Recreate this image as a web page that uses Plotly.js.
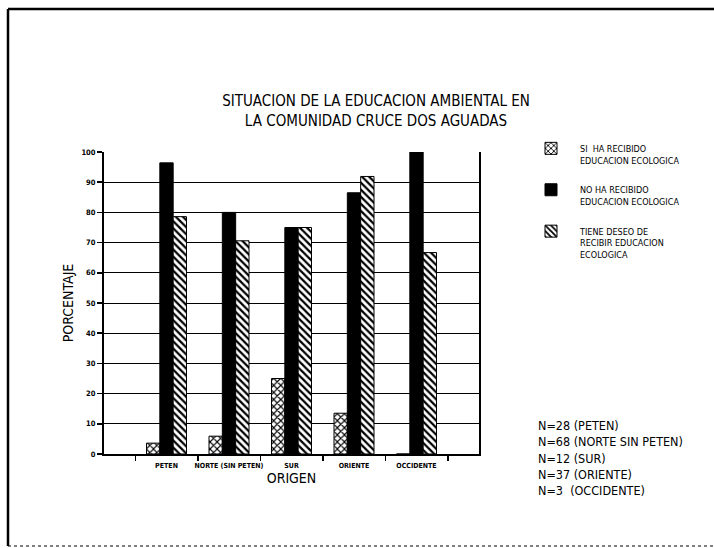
<!DOCTYPE html>
<html>
<head>
<meta charset="utf-8">
<script src="https://cdn.plot.ly/plotly-3.0.1.min.js"></script>
<style>html,body{margin:0;padding:0;background:#fff;}#chart{width:714px;height:548px;}</style>
</head>
<body>
<div id="chart"></div>
<script>
const categories = ["PETEN", "NORTE (SIN PETEN)", "SUR", "ORIENTE", "OCCIDENTE"];
const siRecibido = [3.6, 5.9, 25.0, 13.5, 0];
const noRecibido = [96.4, 80.0, 75.0, 86.5, 100];
const deseoRecibir = [78.6, 70.6, 75.0, 91.9, 66.7];
const seriesNames = [
  "SI  HA RECIBIDO<br>EDUCACION ECOLOGICA",
  "NO HA RECIBIDO<br>EDUCACION ECOLOGICA",
  "TIENE DESEO DE<br>RECIBIR EDUCACION<br>ECOLOGICA"
];
const sampleNotes = ["N=28 (PETEN)", "N=68 (NORTE SIN PETEN)", "N=12 (SUR)", "N=37 (ORIENTE)", "N=3  (OCCIDENTE)"];
const yTicks = [0, 10, 20, 30, 40, 50, 60, 70, 80, 90, 100];

const FONT = '"Liberation Sans Narrow", "DejaVu Sans Condensed", "Liberation Sans", sans-serif';
const line = {color: '#000', width: 1};

const traces = [
  {type: 'bar', x: categories, y: siRecibido, name: seriesNames[0], legendgroup: 'a',
   marker: {color: '#fff', line: line, pattern: {shape: 'x', fgcolor: '#000', bgcolor: '#fff', size: 5, solidity: 0.4}}},
  {type: 'bar', x: categories, y: noRecibido, name: seriesNames[1], legendgroup: 'b',
   marker: {color: '#000', line: line}},
  {type: 'bar', x: categories, y: deseoRecibir, name: seriesNames[2], legendgroup: 'c',
   marker: {color: '#fff', line: line, pattern: {shape: '\\', fgcolor: '#000', bgcolor: '#fff', size: 5, solidity: 0.45}}}
];

const L = 104, R = 479, T = 152, B = 454, W = 714, H = 548;
const pw = R - L, ph = B - T;
const px = v => (v - L) / pw;
const py = v => (B - v) / ph;

const layout = {
  width: W, height: H,
  margin: {l: L, r: W - R, t: T, b: H - B, pad: 0},
  paper_bgcolor: '#fff', plot_bgcolor: '#fff',
  font: {family: FONT, color: '#000'},
  barmode: 'group', bargap: 0.36, bargroupgap: 0,
  title: {text: "SITUACION DE LA EDUCACION AMBIENTAL EN<br>LA COMUNIDAD CRUCE DOS AGUADAS",
          font: {family: FONT, size: 15, color: '#000'},
          xref: 'paper', x: px(376), xanchor: 'center',
          yref: 'container', y: 1 - 106 / H, yanchor: 'middle'},
  xaxis: {type: 'category', range: [-1, 5], tickson: 'boundaries', ticks: 'outside', ticklen: 5,
          tickcolor: '#000', tickwidth: 1.5, showgrid: false, tickangle: 0, ticklabelstandoff: 4,
          showline: true, linecolor: '#000', linewidth: 1.5, mirror: false,
          tickfont: {family: FONT, size: 7, color: '#000', weight: 700},
          title: {text: 'ORIGEN', font: {family: FONT, size: 14, color: '#000'}, standoff: 2},
          automargin: false, fixedrange: true},
  yaxis: {range: [0, 100], tickvals: yTicks, ticks: 'outside', ticklen: 5, tickcolor: '#000', tickwidth: 1.5,
          showline: true, linecolor: '#000', linewidth: 2, mirror: true,
          showgrid: true, gridcolor: '#000', gridwidth: 1, zeroline: false,
          tickfont: {family: FONT, size: 7.5, color: '#000', weight: 700},
          title: {text: 'PORCENTAJE', font: {family: FONT, size: 14, color: '#000'}, standoff: 5},
          automargin: false, fixedrange: true},
  showlegend: true,
  legend: {x: px(522), xanchor: 'left', y: py(136), yanchor: 'top',
           font: {family: FONT, size: 9, color: '#000'}, bgcolor: 'rgba(0,0,0,0)',
           itemwidth: 48, tracegroupgap: 15, valign: 'top', itemclick: false, itemdoubleclick: false},
  annotations: [{
    text: sampleNotes.join('<br>'), showarrow: false, align: 'left',
    xref: 'paper', yref: 'paper', x: px(536), y: py(416), xanchor: 'left', yanchor: 'top',
    font: {family: FONT, size: 12.5, color: '#000'}
  }],
  shapes: [
    {type: 'line', xref: 'paper', yref: 'paper', x0: px(8), x1: px(8), y0: py(9), y1: py(546), line: {color: '#000', width: 2.5}},
    {type: 'line', xref: 'paper', yref: 'paper', x0: px(8), x1: px(714), y0: py(9), y1: py(9), line: {color: '#000', width: 2.5}},
    {type: 'line', xref: 'paper', yref: 'paper', x0: px(8), x1: px(714), y0: py(546), y1: py(546), line: {color: '#000', width: 1, dash: 'dot'}}
  ]
};

Plotly.newPlot('chart', traces, layout, {displayModeBar: false, staticPlot: true});
</script>
</body>
</html>
